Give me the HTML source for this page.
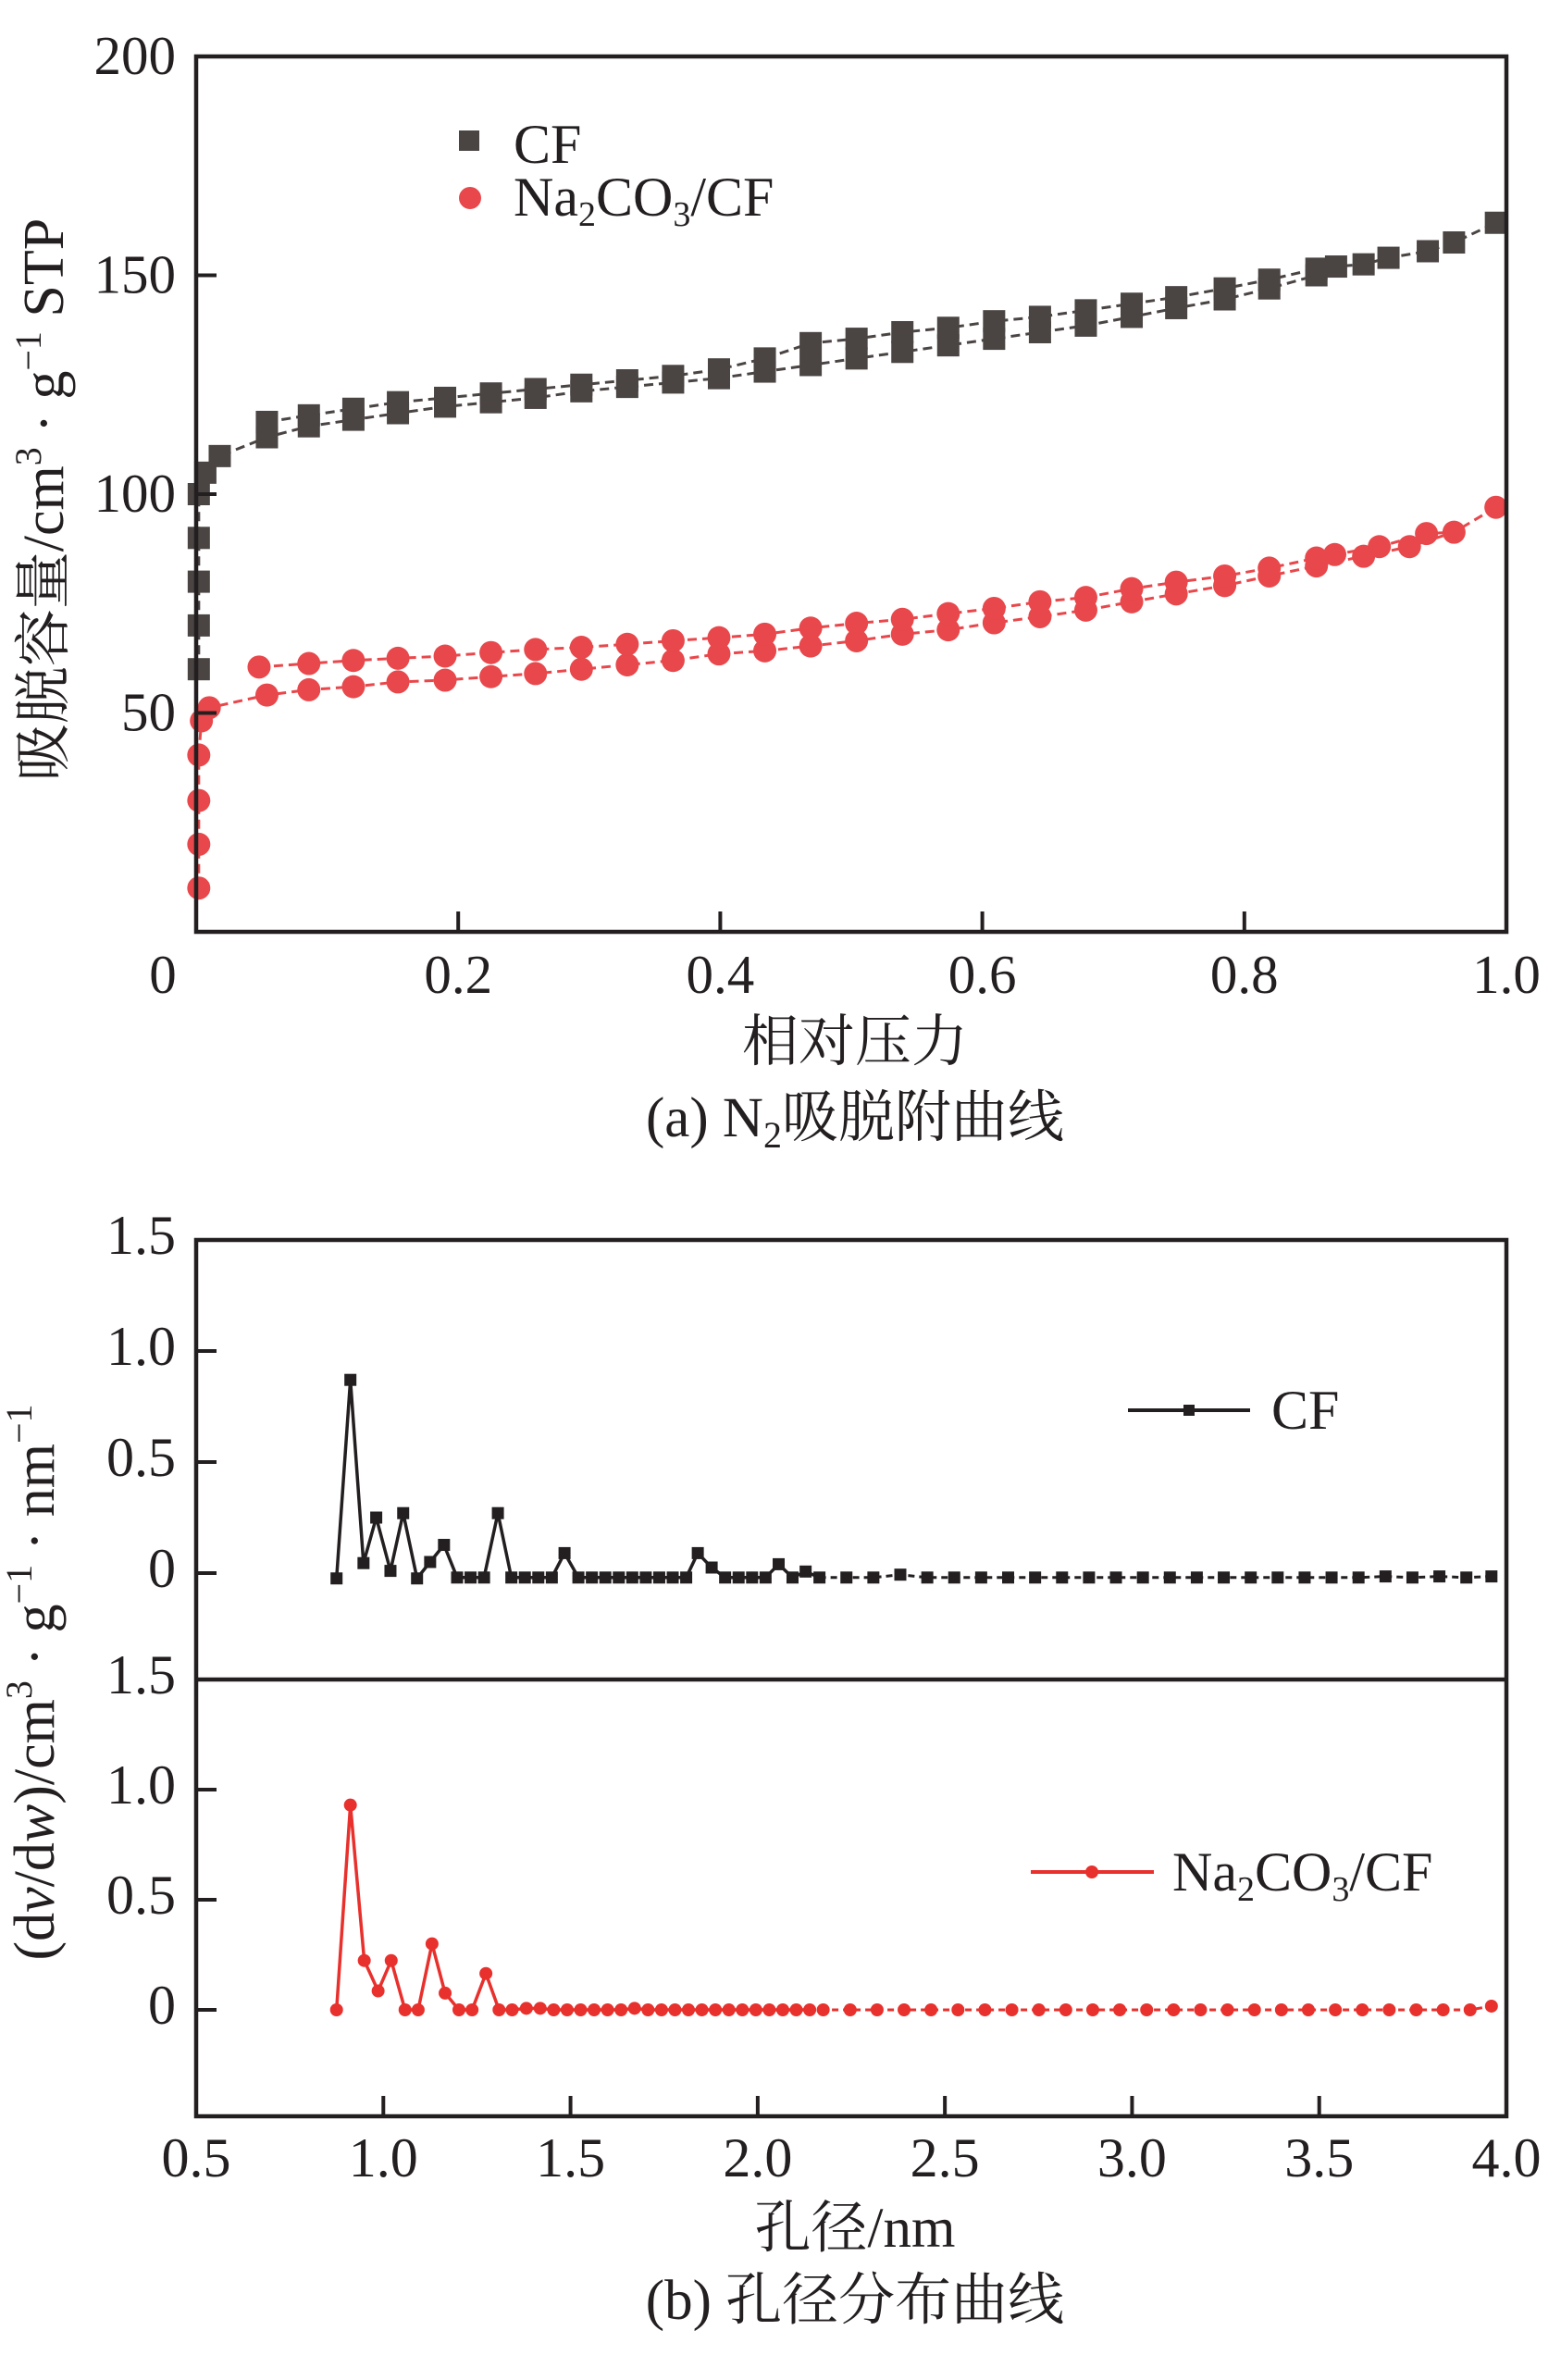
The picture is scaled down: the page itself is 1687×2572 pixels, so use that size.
<!DOCTYPE html>
<html><head><meta charset="utf-8">
<style>
html,body{margin:0;padding:0;background:#fff;}
svg{display:block;}
text{font-family:"Liberation Serif","Noto Serif CJK SC",serif;fill:#231f20;}
</style></head>
<body>
<svg id="fig" width="1687" height="2572" viewBox="0 0 1687 2572" xmlns="http://www.w3.org/2000/svg">
  <g id="chartA"></g>
  <g id="chartB"></g>
  <!-- chart a texts -->
  <text transform="translate(68,540) rotate(-90)" text-anchor="middle" font-size="62">吸脱容量/cm<tspan font-size="40" dy="-24">3</tspan><tspan dy="24"> · g</tspan><tspan font-size="40" dy="-24">−1</tspan><tspan dy="24"> STP</tspan></text>
  <text x="924" y="1146" text-anchor="middle" font-size="61">相对压力</text>
  <text x="924" y="1228" text-anchor="middle" font-size="61">(a) N<tspan font-size="40" dy="12">2</tspan><tspan dy="-12">吸脱附曲线</tspan></text>
  <g>
    <rect x="496" y="141" width="22" height="22" fill="#4a4443"/>
    <text x="555" y="176" font-size="60">CF</text>
    <circle cx="508" cy="214" r="12" fill="#e8474b"/>
    <text x="555" y="233" font-size="60">Na<tspan font-size="38" dy="11">2</tspan><tspan dy="-11">CO</tspan><tspan font-size="38" dy="11">3</tspan><tspan dy="-11">/CF</tspan></text>
  </g>
  <!-- chart b texts -->
  <text transform="translate(58,1818) rotate(-90)" text-anchor="middle" font-size="62">(d<tspan font-style="italic">v</tspan>/d<tspan font-style="italic">w</tspan>)/cm<tspan font-size="40" dy="-24">3</tspan><tspan dy="24"> · g</tspan><tspan font-size="40" dy="-24">−1</tspan><tspan dy="24"> · nm</tspan><tspan font-size="40" dy="-24">−1</tspan></text>
  <text x="924" y="2428" text-anchor="middle" font-size="61">孔径/nm</text>
  <text x="924" y="2506" text-anchor="middle" font-size="61">(b) 孔径分布曲线</text>
  <g>
    <line x1="1219" y1="1524" x2="1351" y2="1524" stroke="#231f20" stroke-width="4"/>
    <rect x="1279" y="1518" width="12" height="12" fill="#231f20"/>
    <text x="1374" y="1544" font-size="60">CF</text>
    <line x1="1114" y1="2023" x2="1247" y2="2023" stroke="#e8302c" stroke-width="4"/>
    <circle cx="1180" cy="2023" r="7" fill="#e8302c"/>
    <text x="1267" y="2043" font-size="60">Na<tspan font-size="38" dy="11">2</tspan><tspan dy="-11">CO</tspan><tspan font-size="38" dy="11">3</tspan><tspan dy="-11">/CF</tspan></text>
  </g>
</svg>
<script>
// ---------- Chart (a) data ----------
const cfAdsP = [0.002,0.002,0.002,0.002,0.002,0.007,0.018,0.054,0.086,0.12,0.154,0.19,0.225,0.259,0.294,0.329,0.364,0.399,0.434,0.469,0.504,0.539,0.574,0.609,0.644,0.679,0.714,0.748,0.785,0.819,0.855,0.87,0.891,0.91,0.94,0.96,0.992];
const cfAdsV = [60,70,80,90,100,104.9,108.7,113,115.5,117,118.5,120,121,122,123.5,124.5,125.5,126.5,128,129.5,131,132.5,134,135.5,137,138.5,140.5,142.5,144.5,147,150,152,152.5,154,155.5,157.5,162];
const cfDesP = [0.054,0.086,0.12,0.154,0.19,0.225,0.259,0.294,0.329,0.364,0.399,0.434,0.469,0.504,0.539,0.574,0.609,0.644,0.679,0.714,0.748,0.785,0.819,0.855];
const cfDesV = [116.5,118,119.5,121,122,123,124,125,126,127,128.5,131,134.5,135.5,137,138,139.5,140.5,142,143.5,145,147,149,151.5];
const naAdsP = [0.002,0.002,0.002,0.002,0.004,0.01,0.054,0.086,0.12,0.154,0.19,0.225,0.259,0.294,0.329,0.364,0.399,0.434,0.469,0.504,0.539,0.574,0.609,0.644,0.679,0.714,0.748,0.785,0.819,0.855,0.891,0.926,0.96,0.992];
const naAdsV = [10,20,30,40.4,48.2,51.2,54.1,55.3,56,57.1,57.5,58.3,59,60,61,62,63.5,64.2,65.3,66.5,68,69,70.6,72,73.5,75.4,77.2,79.1,81.3,83.6,85.8,88,91.3,97];
const naDesP = [0.048,0.086,0.12,0.154,0.19,0.225,0.259,0.294,0.329,0.364,0.399,0.434,0.469,0.504,0.539,0.574,0.609,0.644,0.679,0.714,0.748,0.785,0.819,0.855,0.869,0.903,0.939];
const naDesV = [60.5,61.3,62,62.5,63,63.8,64.5,65,65.7,66.5,67.2,68,69.4,70.5,71.4,72.7,73.9,75.4,76.4,78.4,79.9,81.3,83.1,85.4,86.2,88,91];
const aXTicks = [0.2,0.4,0.6,0.8,1.0];
const aXLabels = ["0.2","0.4","0.6","0.8","1.0"];
const aYTicks = [50,100,150,200];
const aYLabels = ["50","100","150","200"];

// ---------- Chart (b) data ----------
const cfPoreX = [0.875,0.912,0.947,0.981,1.019,1.053,1.09,1.125,1.162,1.197,1.233,1.269,1.306,1.342,1.378,1.414,1.45,1.484,1.521,1.557,1.593,1.629,1.665,1.701,1.737,1.773,1.809,1.84,1.877,1.913,1.949,1.985,2.021,2.056,2.093,2.128,2.165,2.237,2.309,2.381,2.453,2.525,2.597,2.669,2.741,2.813,2.885,2.957,3.029,3.101,3.173,3.245,3.317,3.389,3.461,3.533,3.605,3.677,3.749,3.821,3.893,3.96];
const cfPoreY = [-0.024,0.87,0.045,0.25,0.01,0.27,-0.024,0.05,0.127,-0.02,-0.02,-0.02,0.27,-0.02,-0.02,-0.02,-0.02,0.09,-0.02,-0.02,-0.02,-0.02,-0.02,-0.02,-0.02,-0.02,-0.02,0.09,0.025,-0.02,-0.02,-0.02,-0.02,0.04,-0.02,0.007,-0.02,-0.02,-0.02,-0.007,-0.02,-0.02,-0.02,-0.02,-0.02,-0.02,-0.02,-0.02,-0.02,-0.02,-0.02,-0.02,-0.02,-0.02,-0.02,-0.02,-0.02,-0.015,-0.02,-0.015,-0.02,-0.015];
const naPoreX = [0.875,0.912,0.949,0.986,1.021,1.058,1.093,1.13,1.165,1.202,1.237,1.274,1.309,1.344,1.382,1.419,1.455,1.491,1.527,1.563,1.599,1.635,1.671,1.707,1.743,1.779,1.815,1.851,1.887,1.923,1.959,1.995,2.031,2.067,2.103,2.139,2.175,2.247,2.319,2.391,2.463,2.535,2.607,2.679,2.751,2.823,2.895,2.967,3.039,3.111,3.183,3.255,3.327,3.399,3.471,3.543,3.615,3.687,3.759,3.831,3.903,3.96];
const naPoreY = [0,0.93,0.224,0.086,0.224,0,0,0.30,0.076,0,0,0.165,0,0,0.007,0.007,0,0,0,0,0,0,0.007,0,0,0,0,0,0,0,0,0,0,0,0,0,0,0,0,0,0,0,0,0,0,0,0,0,0,0,0,0,0,0,0,0,0,0,0,0,0,0.017];
const bXTicks = [0.5,1.0,1.5,2.0,2.5,3.0,3.5,4.0];
const bXLabels = ["0.5","1.0","1.5","2.0","2.5","3.0","3.5","4.0"];
const bYTicks = [0,0.5,1.0,1.5];
const bYLabels = ["0","0.5","1.0","1.5"];

const NS = "http://www.w3.org/2000/svg";
function mk(parent, tag, attrs) {
  const e = document.createElementNS(NS, tag);
  for (const k in attrs) e.setAttribute(k, attrs[k]);
  parent.appendChild(e);
  return e;
}

// ---------- Draw chart a ----------
(function(){
  const g = document.getElementById('chartA');
  const L=212, R=1628, T=61, B=1007;
  const xA = p => L + p*(R-L);
  const yA = v => B - v/200*(B-T);
  function line(P, V, color, name) {
    const pl = mk(g, 'polyline', {points: P.map((p,i)=>xA(p)+','+yA(V[i])).join(' '), fill:'none', stroke:color, 'stroke-width':3, 'stroke-dasharray':'10,6'});
    
    
  }
  line(cfAdsP, cfAdsV, '#4a4443', 'cf-adsorption-line');
  line(cfDesP.concat([0.87]), cfDesV.concat([152]), '#4a4443', 'cf-desorption-line');
  line(naAdsP, naAdsV, '#e8474b', 'na2co3-adsorption-line');
  line(naDesP.concat([0.96]), naDesV.concat([91.3]), '#e8474b', 'na2co3-desorption-line');
  function squares(P, V, name) {
    P.forEach((p,i)=>{
      const r = mk(g, 'rect', {x:xA(p)-12, y:yA(V[i])-12, width:24, height:24, fill:'#4a4443'});
      
      
    });
  }
  function circles(P, V, name) {
    P.forEach((p,i)=>{
      const c = mk(g, 'circle', {cx:xA(p), cy:yA(V[i]), r:12.5, fill:'#e8474b'});
      
      
    });
  }
  squares(cfAdsP, cfAdsV, 'cf-adsorption-point');
  squares(cfDesP, cfDesV, 'cf-desorption-point');
  circles(naAdsP, naAdsV, 'na2co3-adsorption-point');
  circles(naDesP, naDesV, 'na2co3-desorption-point');
  const f = mk(g, 'rect', {x:L, y:T, width:R-L, height:B-T, fill:'none', stroke:'#231f20', 'stroke-width':4.5});
  
  
  aXTicks.forEach((t,i)=>{
    const tk = mk(g, 'line', {x1:xA(t), y1:B, x2:xA(t), y2:B-22, stroke:'#231f20', 'stroke-width':4});
    
    
    const tx = mk(g, 'text', {x:xA(t), y:1073, 'text-anchor':'middle', 'font-size':59});
    tx.textContent = aXLabels[i];
    
    
  });
  const z = mk(g, 'text', {x:176, y:1073, 'text-anchor':'middle', 'font-size':59});
  z.textContent = '0';
  
  
  aYTicks.forEach((t,i)=>{
    const tk = mk(g, 'line', {x1:L, y1:yA(t), x2:L+22, y2:yA(t), stroke:'#231f20', 'stroke-width':4});
    
    
    const tx = mk(g, 'text', {x:190, y:yA(t)+19, 'text-anchor':'end', 'font-size':59});
    tx.textContent = aYLabels[i];
    
    
  });
})();

// ---------- Draw chart b ----------
(function(){
  const g = document.getElementById('chartB');
  const L=212, R=1628, T=1340, M=1815, B=2287;
  const xB = v => L + (v-0.5)/3.5*(R-L);
  const yTop = v => T + (1.5 - v)*240;
  const yBot = v => M + (1.5 - v)*238;
  function series(X, Y, yf, color, name, marker) {
    let split = X.findIndex(x=>x>2.17);
    if (split < 0) split = X.length;
    const solid = mk(g, 'polyline', {points: X.slice(0,split).map((x,i)=>xB(x)+','+yf(Y[i])).join(' '), fill:'none', stroke:color, 'stroke-width':3.5});
    
    
    const dashed = mk(g, 'polyline', {points: X.slice(split-1).map((x,i)=>xB(x)+','+yf(Y[i+split-1])).join(' '), fill:'none', stroke:color, 'stroke-width':3, 'stroke-dasharray':'7,5'});
    
    
    X.forEach((x,i)=>{
      let m;
      if (marker==='sq') m = mk(g, 'rect', {x:xB(x)-6.5, y:yf(Y[i])-6.5, width:13, height:13, fill:color});
      else m = mk(g, 'circle', {cx:xB(x), cy:yf(Y[i]), r:7, fill:color});
      
      
    });
  }
  series(cfPoreX, cfPoreY, yTop, '#231f20', 'cf-pore', 'sq');
  series(naPoreX, naPoreY, yBot, '#e8302c', 'na2co3-pore', 'ci');
  const f = mk(g, 'rect', {x:L, y:T, width:R-L, height:B-T, fill:'none', stroke:'#231f20', 'stroke-width':4.5});
  
  
  const d = mk(g, 'line', {x1:L, y1:M, x2:R, y2:M, stroke:'#231f20', 'stroke-width':4.5});
  
  
  bXTicks.forEach((t,i)=>{
    const tk = mk(g, 'line', {x1:xB(t), y1:B, x2:xB(t), y2:B-22, stroke:'#231f20', 'stroke-width':4});
    
    
    const tx = mk(g, 'text', {x:xB(t), y:2352, 'text-anchor':'middle', 'font-size':60});
    tx.textContent = bXLabels[i];
    
    
  });
  [yTop, yBot].forEach((yf, pi)=>{
    bYTicks.forEach((t,i)=>{
      const tk = mk(g, 'line', {x1:L, y1:yf(t), x2:L+22, y2:yf(t), stroke:'#231f20', 'stroke-width':4});
      
      
      const tx = mk(g, 'text', {x:190, y:yf(t)+15, 'text-anchor':'end', 'font-size':60});
      tx.textContent = bYLabels[i];
      
      
    });
  });
})();
</script>
</body></html>
